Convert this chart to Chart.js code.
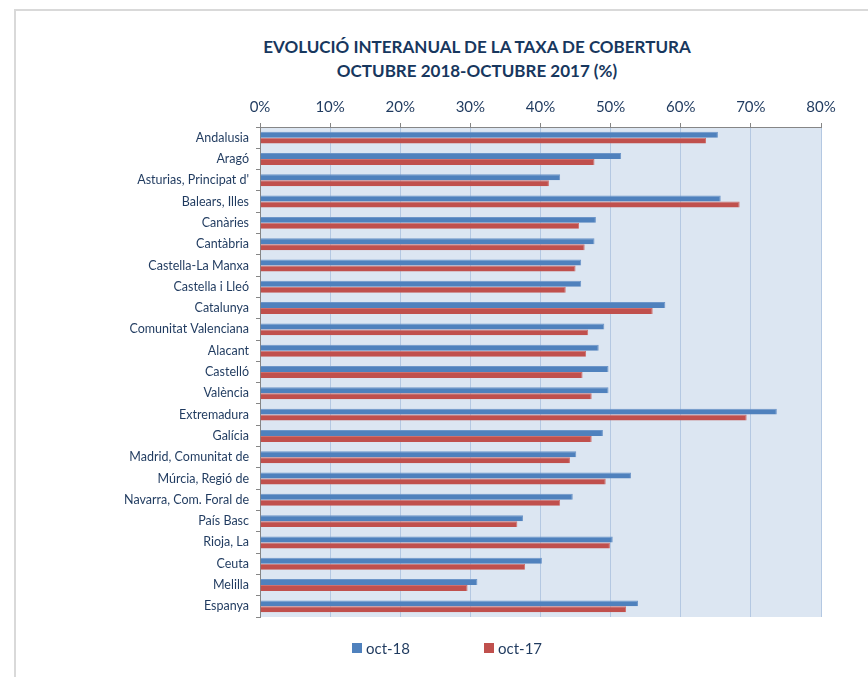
<!DOCTYPE html>
<html>
<head>
<meta charset="utf-8">
<script src="https://cdn.jsdelivr.net/npm/chart.js@4/dist/chart.umd.min.js"></script>
<style>
  html,body{margin:0;padding:0;background:#fff;}
  body{width:868px;height:677px;position:relative;overflow:hidden;font-family:Lato,"Open Sans",sans-serif;}
  #frame{position:absolute;left:14px;top:9px;width:900px;height:700px;border-left:2px solid #d9d9d9;border-top:2px solid #d9d9d9;}
  #title{position:absolute;left:177px;width:600px;top:35px;text-align:center;font-weight:bold;font-size:17px;line-height:24px;color:#17375e;white-space:nowrap;}
  #wrap{position:absolute;left:16px;top:11px;width:852px;height:666px;}
  #legend{position:absolute;top:638px;left:352px;font-size:15px;color:#1f3a5f;white-space:nowrap;}
  #legend span.item{display:inline-flex;align-items:center;}
  #legend i{display:inline-block;width:10px;height:10px;margin-right:4px;}
</style>
</head>
<body>
<div id="frame"></div>
<div id="title">EVOLUCIÓ INTERANUAL DE LA TAXA DE COBERTURA<br>OCTUBRE 2018-OCTUBRE 2017 (%)</div>
<div id="wrap"><canvas id="c"></canvas></div>
<div id="legend"></div>
<script>
// regions (top to bottom)
const categories = ['Andalusia','Aragó',"Asturias, Principat d'",'Balears, Illes','Canàries','Cantàbria',
  'Castella-La Manxa','Castella i Lleó','Catalunya','Comunitat Valenciana','Alacant','Castelló','València',
  'Extremadura','Galícia','Madrid, Comunitat de','Múrcia, Regió de','Navarra, Com. Foral de','País Basc',
  'Rioja, La','Ceuta','Melilla','Espanya'];
// taxa de cobertura, %
const oct18 = [65.3,51.5,42.8,65.7,47.9,47.7,45.8,45.8,57.8,49.1,48.3,49.7,49.7,73.7,48.9,45.1,52.9,44.6,37.5,50.3,40.2,31.0,53.9];
const oct17 = [63.6,47.7,41.2,68.4,45.5,46.3,45.0,43.6,56.0,46.8,46.5,46.0,47.3,69.4,47.3,44.2,49.3,42.8,36.7,49.9,37.8,29.6,52.2];
const seriesNames = ['oct-18','oct-17'];
const xTicks = [0,10,20,30,40,50,60,70,80];

const BLUE='#4f81bd', RED='#c0504d', INK='#1f3a5f', AXIS='#868686';

const plotBg = {
  id:'plotBg',
  beforeDraw(chart){
    const a=chart.chartArea, ctx=chart.ctx;
    ctx.save(); ctx.fillStyle='#dce6f2'; ctx.fillRect(a.left,a.top,a.right-a.left,a.bottom-a.top); ctx.restore();
  }
};

const chart = new Chart(document.getElementById('c'), {
  type:'bar',
  data:{
    labels:categories,
    datasets:[
      {label:seriesNames[0],data:oct18,backgroundColor:BLUE,borderColor:'#6d96c9',borderWidth:{top:1,right:1,bottom:0,left:0},borderSkipped:false},
      {label:seriesNames[1],data:oct17,backgroundColor:RED,borderColor:'#cf706d',borderWidth:{top:1,right:1,bottom:0,left:0},borderSkipped:false}
    ]
  },
  options:{
    indexAxis:'y',
    responsive:true,maintainAspectRatio:false,animation:false,
    layout:{padding:{top:79,right:47,bottom:60,left:0}},
    datasets:{bar:{categoryPercentage:0.56,barPercentage:1}},
    plugins:{legend:{display:false},title:{display:false},tooltip:{enabled:false}},
    scales:{
      x:{
        position:'top',min:0,max:80,
        afterBuildTicks:s=>{s.ticks=xTicks.map(v=>({value:v}));},
        afterFit:s=>{s.height=37;},
        grid:{color:'#b4c8e2',tickColor:AXIS,tickLength:4,lineWidth:1},
        border:{color:AXIS,width:1},
        ticks:{callback:v=>v+'%',color:INK,padding:7,font:{family:'Lato',size:15}}
      },
      y:{
        afterFit:s=>{s.width=244;},
        grid:{offset:true,drawOnChartArea:false,color:AXIS,tickLength:4},
        border:{color:AXIS,width:1},
        ticks:{color:INK,padding:7,font:{family:'Lato',size:12.5},autoSkip:false}
      }
    }
  },
  plugins:[plotBg]
});

// legend as plain text items
const lg=document.getElementById('legend');
seriesNames.forEach((n,i)=>{
  const s=document.createElement('span'); s.className='item';
  if(i>0) s.style.marginLeft='74px';
  s.innerHTML='<i style="background:'+(i?RED:BLUE)+'"></i>'+n;
  lg.appendChild(s);
});
</script>
</body>
</html>
